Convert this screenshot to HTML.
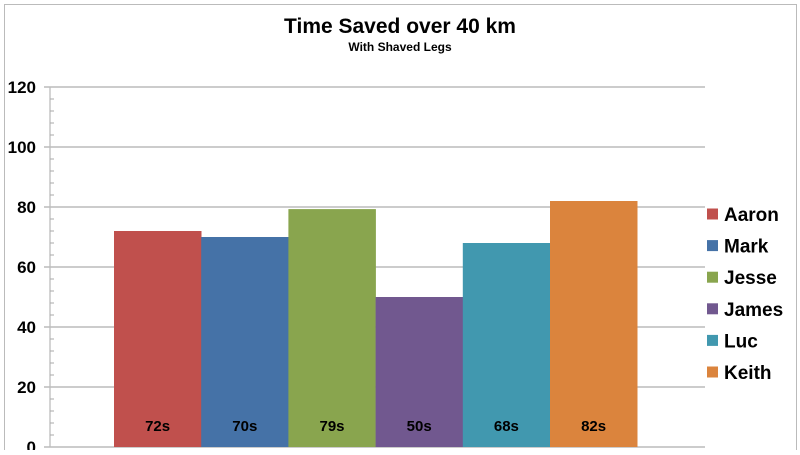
<!DOCTYPE html>
<html><head><meta charset="utf-8"><style>
body{margin:0;background:#fff;}
svg text{font-family:"Liberation Sans Narrow","Liberation Sans",sans-serif;font-weight:bold;}
</style></head><body>
<svg width="800" height="450" viewBox="0 0 800 450">
<rect x="4.5" y="4.5" width="792" height="460" fill="#fff" stroke="#bbb"/>
<text x="400" y="33" text-anchor="middle" font-size="21" fill="#000">Time Saved over 40 km</text>
<text x="400" y="51" text-anchor="middle" font-size="12" fill="#000">With Shaved Legs</text>
<g id="grid"></g><g id="bars"></g><g id="legend"></g>
</svg>
<script>
const categories=["Aaron","Mark","Jesse","James","Luc","Keith"];
const values=[72,70,79.3,50,68,82];
const labels=["72s","70s","79s","50s","68s","82s"];
const ticks=[0,20,40,60,80,100,120];
const colors=["#c0504d","#4572a7","#89a54e","#71588f","#4198af","#db843d"];
const NS="http://www.w3.org/2000/svg";
const y0=447,yTop=87,ymax=120,x0=114,bw=87.2;
const y=v=>y0-(y0-yTop)*v/ymax;
function mk(t,a,p){const e=document.createElementNS(NS,t);for(const k in a)e.setAttribute(k,a[k]);p.appendChild(e);return e;}
const g=document.getElementById('grid');
mk('line',{x1:50,y1:yTop,x2:50,y2:y0,stroke:'#aaa'},g);
for(let v=0;v<=ymax;v+=4){const l=mk('line',{x1:50,y1:y(v),x2:54,y2:y(v),stroke:'#aaa'},g);
}
ticks.forEach(v=>{const l=mk('line',{x1:44,y1:y(v),x2:705,y2:y(v),stroke:'#bbb','stroke-width':1.5},g);

const t=mk('text',{x:36,y:y(v)+6,'text-anchor':'end','font-size':17,fill:'#000'},g);t.textContent=v;
});
const b=document.getElementById('bars');
values.forEach((v,i)=>{const r=mk('rect',{x:x0+i*bw,y:y(v),width:bw+0.3,height:y0-y(v),fill:colors[i]},b);

const t=mk('text',{x:x0+i*bw+bw/2,y:431,'text-anchor':'middle','font-size':15,fill:'#000'},b);t.textContent=labels[i];
});
const lg=document.getElementById('legend');
categories.forEach((c,i)=>{const cy=214+i*31.6;
const r=mk('rect',{x:707,y:cy-5.5,width:11,height:11,fill:colors[i]},lg);

const t=mk('text',{x:724,y:cy+7,'font-size':19,fill:'#000'},lg);t.textContent=c;
});
</script>
</body></html>
